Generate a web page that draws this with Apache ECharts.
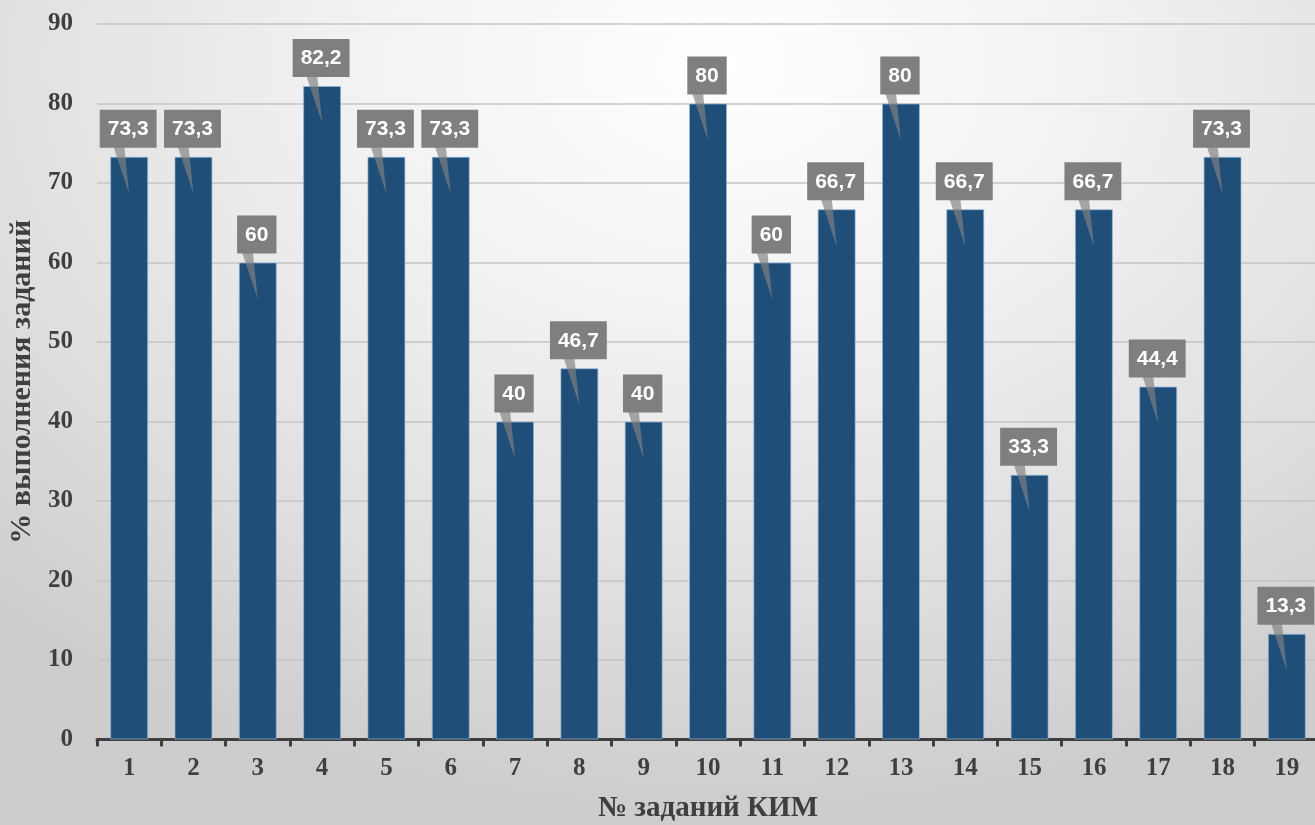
<!DOCTYPE html>
<html>
<head>
<meta charset="utf-8">
<script src="https://cdn.jsdelivr.net/npm/echarts@6/dist/echarts.min.js"></script>
<style>
html,body{margin:0;padding:0;width:1315px;height:825px;overflow:hidden;
background:radial-gradient(ellipse 80% 90% at 55% 8%, #ffffff 0%, #f2f2f2 35%, #dddddd 75%, #cdcdcd 100%);}
#c{width:1315px;height:825px;}
</style>
</head>
<body>
<div id="c"></div>
<script>
var categories = ['1','2','3','4','5','6','7','8','9','10','11','12','13','14','15','16','17','18','19'];
var values = [73.3,73.3,60,82.2,73.3,73.3,40,46.7,40,80,60,66.7,80,66.7,33.3,66.7,44.4,73.3,13.3];
var yTicks = [0,10,20,30,40,50,60,70,80,90];
var yTitle = '% выполнения заданий';
var xTitle = '№ заданий КИМ';

var chart = echarts.init(document.getElementById('c'), null, {renderer:'canvas'});
var serif = '"Liberation Serif","DejaVu Serif",serif';
var axisColor = '#3f3f3f';

function fmt(v){ return String(v).replace('.', ','); }

chart.setOption({
  backgroundColor: 'transparent',
  animation: false,
  grid: {left: 97, top: 24, width: 1222, bottom: 85.5, containLabel: false, outerBoundsMode: 'none'},
  xAxis: {
    type: 'category',
    data: categories,
    boundaryGap: true,
    name: xTitle,
    nameLocation: 'middle',
    nameGap: 55,
    nameTextStyle: {fontFamily: serif, fontWeight: 'bold', fontSize: 29, color: axisColor},
    axisLine: {show: true, lineStyle: {color: axisColor, width: 3}},
    axisTick: {show: true, length: 7, lineStyle: {color: axisColor, width: 3}, alignWithLabel: false},
    axisLabel: {fontFamily: serif, fontWeight: 'bold', fontSize: 25, color: axisColor, margin: 17},
    splitLine: {show: false}
  },
  yAxis: {
    type: 'value',
    min: yTicks[0], max: yTicks[yTicks.length-1], interval: 10,
    name: yTitle,
    nameLocation: 'middle',
    nameGap: 58,
    nameRotate: 90,
    nameTextStyle: {fontFamily: serif, fontWeight: 'bold', fontSize: 30, color: axisColor},
    axisLine: {show: false},
    axisTick: {show: false},
    axisLabel: {fontFamily: serif, fontWeight: 'bold', fontSize: 25, color: axisColor, margin: 24},
    splitLine: {show: true, lineStyle: {color: '#c4c4c4', width: 1.5}}
  },
  series: [
    {
      type: 'bar',
      data: values,
      barWidth: 38,
      itemStyle: {color: '#1F4E79', borderColor: 'rgba(150,185,220,0.7)', borderWidth: 1},
      z: 2
    },
    {
      type: 'custom',
      data: values.map(function(v,i){ return [i, v]; }),
      z: 5,
      renderItem: function(params, api){
        var i = api.value(0), v = api.value(1);
        var p = api.coord([i, v]);
        var cx = p[0], top = p[1];
        var boxBottom = top - 9;
        return {
          type: 'group',
          children: [
            {
              type: 'polygon',
              shape: {points: [[cx-16, boxBottom-2],[cx-5, boxBottom-2],[cx, top+37]]},
              style: {fill: 'rgba(128,128,128,0.68)'}
            },
            {
              type: 'text',
              style: {
                text: fmt(v),
                x: cx - 1, y: boxBottom,
                align: 'center', verticalAlign: 'bottom',
                fontFamily: '"Liberation Sans","DejaVu Sans",sans-serif',
                fontWeight: 'bold', fontSize: 21, lineHeight: 21,
                fill: '#ffffff',
                backgroundColor: '#7f7f7f',
                padding: [9, 8, 8, 8]
              }
            }
          ]
        };
      }
    }
  ]
});
</script>
</body>
</html>
